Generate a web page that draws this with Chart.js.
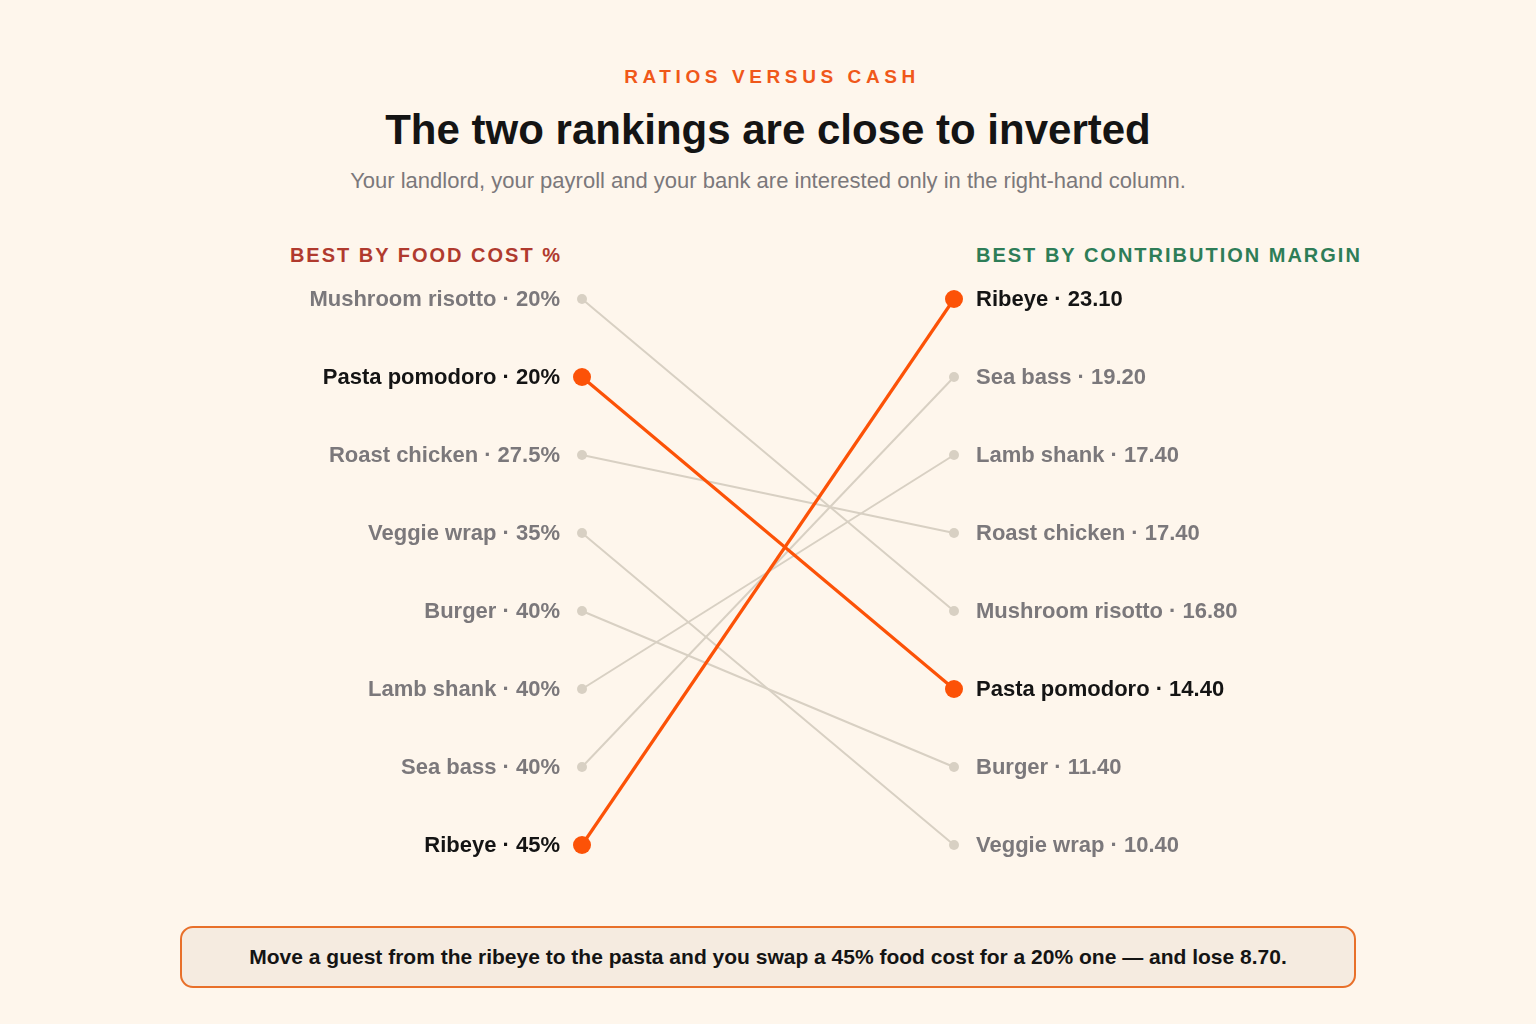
<!DOCTYPE html>
<html>
<head>
<meta charset="utf-8">
<script src="https://cdn.jsdelivr.net/npm/chart.js@4.4.1/dist/chart.umd.min.js"></script>
<style>
  html, body { margin: 0; padding: 0; }
  body {
    width: 1536px; height: 1024px; background: #fef6ec; position: relative;
    font-family: "Liberation Sans", Arial, Helvetica, sans-serif; overflow: hidden;
  }
  .kicker { position: absolute; top: 66px; left: 4px; width: 1536px; text-align: center;
    color: #f0581a; font-size: 19px; font-weight: bold; letter-spacing: 4.6px; }
  .title { position: absolute; top: 106px; left: 0; width: 1536px; text-align: center;
    color: #141414; font-size: 42px; font-weight: bold; }
  .sub { position: absolute; top: 168px; left: 0; width: 1536px; text-align: center;
    color: #7b787b; font-size: 22px; }
  .head { position: absolute; top: 244px; font-size: 20px; font-weight: bold; letter-spacing: 2px; }
  .head.left { right: 974px; color: #b03a2e; text-align: right; }
  .head.right { left: 976px; color: #2e7d57; }
  #wrap { position: absolute; left: 0; top: 0; width: 1536px; height: 1024px; }
  .callout { position: absolute; left: 180px; top: 926px; width: 1172px; height: 58px;
    border: 2px solid #e8702a; border-radius: 13px; background: #f5ebe0;
    display: flex; align-items: center; justify-content: center;
    color: #141414; font-size: 21px; font-weight: bold; }
</style>
</head>
<body>
<div class="kicker">RATIOS VERSUS CASH</div>
<div class="title">The two rankings are close to inverted</div>
<div class="sub">Your landlord, your payroll and your bank are interested only in the right-hand column.</div>
<div class="head left">BEST BY FOOD COST %</div>
<div class="head right">BEST BY CONTRIBUTION MARGIN</div>
<div id="wrap"><canvas id="slope"></canvas></div>
<div class="callout">Move a guest from the ribeye to the pasta and you swap a 45% food cost for a 20% one — and lose 8.70.</div>

<script>
// dishes in food-cost order (left column)
var dishes = ['Mushroom risotto', 'Pasta pomodoro', 'Roast chicken', 'Veggie wrap',
  'Burger', 'Lamb shank', 'Sea bass', 'Ribeye'];
var foodCost = ['20%', '20%', '27.5%', '35%', '40%', '40%', '40%', '45%'];
// contribution margin, same dish order
var margin = ['16.80', '14.40', '17.40', '10.40', '11.40', '17.40', '19.20', '23.10'];
// rank in right column (0 = top)
var marginRank = [4, 5, 3, 7, 6, 2, 1, 0];
var highlight = ['Pasta pomodoro', 'Ribeye'];

var ORANGE = '#fc5207';
var GREY = '#d8d0c3';

var datasets = dishes.map(function (d, i) {
  var hot = highlight.indexOf(d) >= 0;
  return {
    label: d,
    data: [{ x: 0, y: i }, { x: 1, y: marginRank[i] }],
    borderColor: hot ? ORANGE : GREY,
    backgroundColor: hot ? ORANGE : GREY,
    borderWidth: hot ? 3.2 : 2,
    pointRadius: hot ? 9 : 5,
    pointBorderWidth: 0,
    clip: false,
    order: hot ? 0 : 1
  };
});

var labelPlugin = {
  id: 'sideLabels',
  afterDatasetsDraw: function (chart) {
    var c = chart.ctx;
    var xs = chart.scales.x, ys = chart.scales.y;
    c.save();
    c.font = 'bold 22px "Liberation Sans", Arial, sans-serif';
    c.textBaseline = 'middle';
    dishes.forEach(function (d, i) {
      var hot = highlight.indexOf(d) >= 0;
      c.fillStyle = hot ? '#141414' : '#7b787b';
      c.textAlign = 'right';
      c.fillText(d + ' \u00b7 ' + foodCost[i], xs.getPixelForValue(0) - 22, ys.getPixelForValue(i) + 1);
      c.textAlign = 'left';
      c.fillText(d + ' \u00b7 ' + margin[i], xs.getPixelForValue(1) + 22, ys.getPixelForValue(marginRank[i]) + 1);
    });
    c.restore();
  }
};

new Chart(document.getElementById('slope'), {
  type: 'line',
  data: { datasets: datasets },
  options: {
    responsive: true,
    maintainAspectRatio: false,
    animation: false,
    layout: { padding: { left: 582, right: 582, top: 299, bottom: 179 } },
    scales: {
      x: { type: 'linear', min: 0, max: 1, display: false },
      y: { type: 'linear', min: 0, max: 7, reverse: true, display: false }
    },
    plugins: { legend: { display: false }, tooltip: { enabled: false } }
  },
  plugins: [labelPlugin]
});
</script>
</body>
</html>
